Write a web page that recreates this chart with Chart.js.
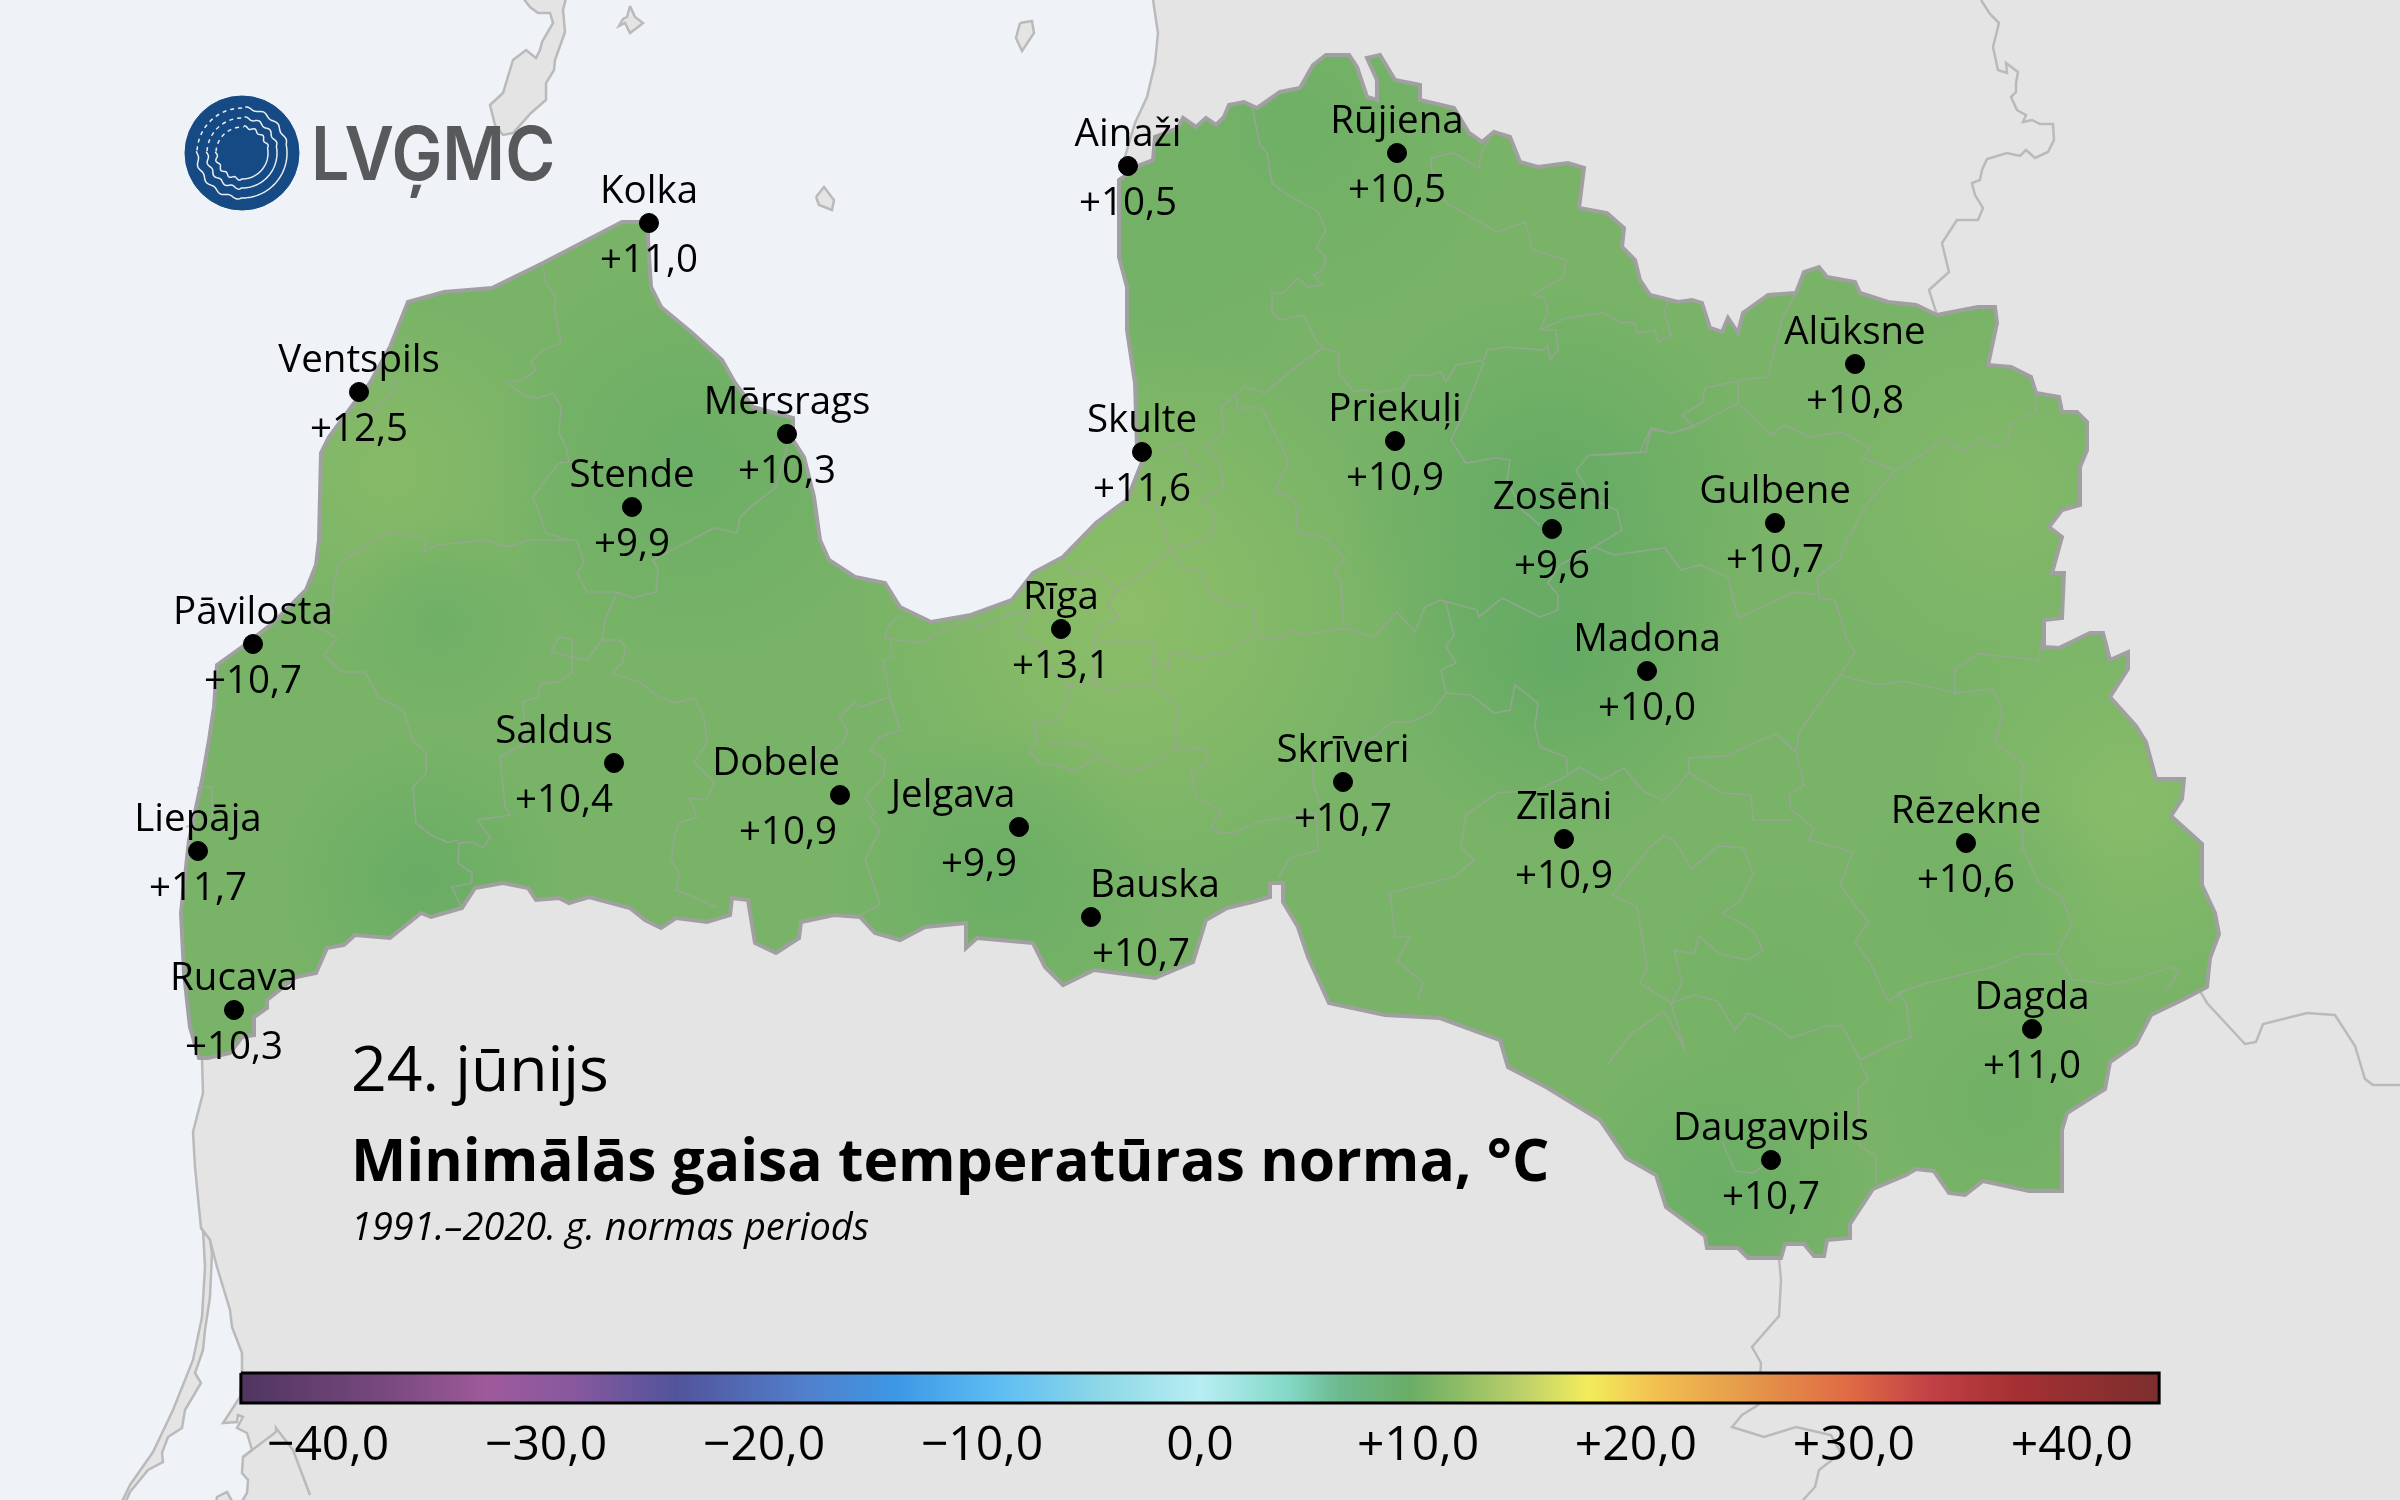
<!DOCTYPE html>
<html lang="lv">
<head>
<meta charset="utf-8">
<title>Minimālās gaisa temperatūras norma</title>
<script src="https://cdn.jsdelivr.net/npm/chart.js@4"></script>
<style>
  html, body { margin: 0; padding: 0; background: #E4E4E4; }
  canvas { display: block; }
</style>
</head>
<body>
<canvas id="map" width="2400" height="1500"></canvas>
<script>
// stations
const stationNames = ['Ainaži','Rūjiena','Kolka','Ventspils','Mērsrags','Stende','Skulte','Priekuļi','Alūksne','Gulbene','Zosēni','Madona','Rīga','Pāvilosta','Saldus','Dobele','Jelgava','Bauska','Skrīveri','Zīlāni','Liepāja','Rucava','Rēzekne','Dagda','Daugavpils'];
const stationValues = [10.5,10.5,11.0,12.5,10.3,9.9,11.6,10.9,10.8,10.7,9.6,10.0,13.1,10.7,10.4,10.9,9.9,10.7,10.7,10.9,11.7,10.3,10.6,11.0,10.7];
const stationX = [1128,1397,649,359,787,632,1142,1395,1855,1775,1552,1647,1061,253,614,840,1019,1091,1343,1564,198,234,1966,2032,1771];
const stationY = [166,153,223,392,434,507,452,441,364,523,529,671,629,644,763,795,827,917,782,839,851,1010,843,1029,1160];

// colour bar
const tickValues = [-40,-30,-20,-10,0,10,20,30,40];
const tickLabels = ['−40,0','−30,0','−20,0','−10,0','0,0','+10,0','+20,0','+30,0','+40,0'];
const barTemps = [-44,-37,-32.7,-28.6,-24,-18,-14,-9.3,-4.4,0,4.1,6.4,9.6,11.7,14.6,17.8,21,25,29.8,33.6,37.4,44];
const barColors = ['#4F3560','#7B4A80','#9E5A9B','#86589E','#51549B','#5180CC','#3D97E5','#5DBDF3','#8FD8E6','#B8EDF4','#83D8C6','#6DB98F','#6AAD67','#8ABB65','#B9CF6A','#F3EC5B','#F2BF50','#E59A4A','#E06A45','#C04045','#A53033','#7C2E2E'];

// temperature field over Latvia, warm and cool patches
const fieldX = [1130,390,2130,2000,1550,1560,690,420,440,1720,1000,1300,1170,1980,2000,1780];
const fieldY = [610,470,800,500,500,660,460,880,620,1190,880,130,250,900,1100,1000];
const fieldSize = [280,180,210,200,210,180,200,140,100,150,160,200,150,130,120,130];
const fieldColors = ['#8DBE68','#87BA68','#87BC69','#83B969','#64AA64','#64AA64','#6BAE65','#68AC65','#6FB066','#6AAE66','#6BAE65','#6FB066','#72B166','#73B166','#71B066','#73B166'];

// map outlines, in map units
const latviaOutline = [[648,222],[648,240],[651,287],[661,307],[691,332],[722,360],[735,383],[753,407],[793,418],[793,440],[804,457],[814,497],[820,540],[829,560],[855,577],[885,583],[900,607],[931,622],[971,615],[1012,600],[1033,573],[1063,557],[1096,523],[1117,507],[1127,500],[1142,462],[1137,447],[1135,383],[1127,330],[1127,287],[1119,257],[1119,180],[1140,165],[1153,160],[1155,137],[1178,128],[1183,118],[1196,127],[1206,118],[1216,125],[1224,117],[1229,105],[1244,102],[1257,108],[1280,92],[1300,88],[1313,65],[1326,55],[1349,55],[1357,67],[1367,97],[1377,100],[1377,80],[1367,58],[1380,55],[1395,80],[1420,85],[1420,100],[1454,108],[1469,133],[1482,142],[1494,132],[1510,137],[1520,162],[1538,167],[1568,163],[1584,168],[1579,208],[1607,213],[1624,228],[1622,247],[1635,260],[1640,280],[1650,295],[1678,302],[1692,300],[1702,303],[1710,328],[1722,332],[1728,318],[1738,333],[1743,313],[1768,295],[1796,293],[1804,272],[1819,267],[1827,277],[1855,282],[1860,293],[1888,302],[1916,305],[1937,315],[1947,313],[1978,307],[1995,307],[1997,323],[1988,365],[2011,367],[2031,377],[2036,393],[2059,397],[2062,412],[2077,412],[2087,422],[2087,450],[2080,467],[2080,505],[2062,510],[2049,527],[2062,537],[2052,573],[2064,573],[2062,618],[2044,620],[2044,647],[2059,648],[2090,633],[2103,633],[2110,660],[2128,652],[2128,669],[2110,697],[2136,726],[2146,742],[2156,779],[2184,779],[2182,799],[2171,816],[2202,844],[2202,885],[2215,913],[2219,934],[2210,958],[2207,987],[2184,999],[2151,1015],[2136,1044],[2110,1062],[2105,1089],[2067,1113],[2062,1130],[2062,1191],[2029,1191],[1983,1181],[1965,1195],[1949,1193],[1934,1171],[1916,1169],[1906,1175],[1873,1189],[1850,1224],[1850,1238],[1827,1240],[1824,1256],[1814,1256],[1804,1244],[1785,1244],[1781,1258],[1748,1258],[1738,1248],[1707,1248],[1705,1236],[1666,1207],[1656,1175],[1626,1158],[1600,1120],[1546,1087],[1508,1067],[1500,1040],[1440,1018],[1385,1015],[1329,1003],[1308,957],[1298,927],[1283,902],[1283,883],[1270,883],[1270,897],[1252,902],[1227,908],[1206,920],[1193,962],[1155,978],[1094,970],[1063,985],[1045,967],[1033,943],[977,938],[966,948],[966,923],[925,927],[900,940],[875,933],[860,917],[834,915],[801,922],[799,938],[776,953],[755,943],[748,900],[732,898],[730,915],[707,922],[676,918],[661,928],[645,920],[630,908],[589,897],[569,903],[559,898],[536,900],[528,888],[503,883],[475,888],[462,908],[431,917],[421,913],[390,938],[355,935],[344,945],[327,948],[316,973],[296,977],[267,1000],[267,1008],[254,1017],[254,1035],[242,1037],[230,1053],[208,1058],[199,1058],[190,1027],[184,973],[181,913],[189,840],[197,803],[202,780],[209,740],[214,707],[217,665],[242,647],[273,623],[306,590],[316,565],[319,540],[321,453],[329,437],[355,402],[370,383],[390,347],[398,327],[408,302],[444,292],[492,288],[543,263],[622,222],[648,222]];

const municipalBorders = [
  [[543,267],[546,283],[556,297],[554,307],[561,343],[543,350],[531,362],[536,370],[523,380],[508,383],[523,395],[538,398],[553,393],[561,407],[559,433],[566,447],[569,462],[559,463],[543,483],[533,498],[538,510],[546,533],[569,540],[577,540],[584,563],[577,573],[587,592],[617,592],[633,598],[656,592],[658,570],[653,560],[691,540],[714,528],[737,533],[740,517],[753,505],[776,487],[788,443]],
  [[617,592],[605,620],[602,640],[587,660],[572,657],[551,652],[559,637],[572,640],[572,673],[559,682],[541,683],[538,697],[523,702],[526,743],[500,757],[505,807],[510,815],[477,820],[490,837],[483,848],[472,842],[459,843],[458,863],[472,873],[472,883],[452,887],[462,908]],
  [[602,640],[620,640],[625,647],[623,662],[612,673],[640,682],[656,695],[674,703],[694,698],[704,717],[707,743],[694,762],[714,782],[707,800],[689,798],[697,817],[679,823],[674,840],[671,860],[679,873],[676,890],[697,898],[717,908]],
  [[577,540],[528,540],[508,547],[487,540],[436,545],[424,552],[426,540],[401,532],[385,533],[360,550],[339,563],[334,583],[332,613],[314,625],[337,638],[324,655],[342,672],[365,672],[378,697],[403,710],[413,740],[426,753],[426,773],[413,787],[416,823],[431,835],[447,842],[459,840]],
  [[197,788],[212,787],[212,817],[186,827]],
  [[395,377],[395,390],[380,403],[375,413],[360,410]],
  [[900,615],[888,627],[885,638],[920,643],[969,618],[977,628],[1015,612],[1030,613],[1015,632],[1043,647],[1043,660],[1068,687],[1068,700],[1058,720],[1033,723],[1038,738],[1030,753],[1040,763],[1063,767],[1076,770],[1099,755],[1089,745],[1048,742]],
  [[890,640],[893,657],[883,660],[890,697],[900,730],[880,737],[870,750],[885,760],[883,777],[865,797],[875,813],[870,817],[880,830],[865,860],[873,883],[880,905],[860,915]],
  [[890,697],[860,707],[855,702],[839,717],[847,730],[844,742],[820,762],[810,745]],
  [[1068,687],[1094,682],[1109,693],[1124,685],[1153,685],[1155,663],[1150,658],[1168,667],[1170,653],[1186,652],[1191,658],[1227,653],[1255,633],[1255,608],[1232,605],[1211,595],[1201,572],[1183,568],[1170,550],[1211,538],[1216,517],[1201,500]],
  [[1170,550],[1158,510],[1155,500]],
  [[1170,550],[1150,568],[1117,590],[1096,570],[1073,575],[1063,563]],
  [[1094,682],[1094,643],[1096,628],[1119,618],[1107,603],[1117,590]],
  [[1094,643],[1122,643],[1155,643],[1155,663]],
  [[1099,757],[1127,773],[1155,763],[1176,747],[1178,707],[1153,683]],
  [[1176,748],[1206,748],[1206,765],[1191,770],[1196,797],[1221,810],[1211,827],[1219,833],[1237,832],[1257,822],[1316,812],[1318,850],[1290,858],[1278,878]],
  [[1313,763],[1313,783],[1321,807]],
  [[1313,763],[1374,737],[1392,722],[1410,722],[1431,713],[1446,693],[1441,670],[1456,663],[1446,647],[1454,635],[1446,603],[1441,600],[1425,607],[1415,632],[1397,612],[1374,637],[1344,628],[1303,635],[1293,630],[1275,640],[1255,635]],
  [[1344,628],[1341,583],[1334,570],[1346,560],[1326,538],[1298,532],[1295,500],[1275,490],[1288,462],[1275,433],[1262,408],[1237,408],[1237,397]],
  [[1441,600],[1477,610],[1479,617],[1502,598],[1520,607],[1540,617],[1558,610],[1558,595],[1548,583],[1560,565],[1594,547],[1614,555],[1665,548],[1681,570],[1700,565],[1728,577],[1738,618]],
  [[1594,547],[1622,530],[1617,510],[1594,500],[1576,470],[1589,455],[1640,452],[1650,430],[1673,433],[1700,423],[1738,403]],
  [[1446,693],[1471,695],[1494,713],[1510,710],[1515,685],[1538,703],[1535,727],[1540,747],[1566,757],[1568,775],[1538,790],[1497,793],[1466,815],[1461,847],[1474,860],[1454,877],[1390,893],[1395,937],[1410,937],[1397,960],[1423,983],[1418,1000]],
  [[1568,775],[1579,767],[1602,780],[1624,768],[1643,791],[1664,801],[1689,773]],
  [[1651,846],[1664,836],[1674,840],[1692,869],[1717,846],[1743,848],[1753,873],[1740,901],[1722,913],[1753,930],[1763,950],[1748,960],[1720,954],[1699,936],[1694,954],[1674,950],[1682,983],[1671,1003],[1694,995],[1717,1001],[1735,1030],[1748,1013],[1776,1026],[1791,1038],[1827,1026],[1842,1026],[1860,1060],[1896,1042],[1911,1038],[1906,1003],[1898,993],[1927,983],[1993,967],[2023,954],[2057,954],[2072,979],[2110,985],[2141,977],[2171,967],[2179,971],[2166,991]],
  [[1651,846],[1612,895],[1637,907],[1647,967],[1640,983],[1671,1003]],
  [[2057,954],[2062,942],[2072,926],[2062,897],[2039,883],[2023,848],[2021,787],[2023,764],[1995,742],[2003,713],[1993,689],[1955,693],[1955,669],[1978,654],[2039,660],[2041,640]],
  [[1955,693],[1904,681],[1878,685],[1855,679],[1840,675],[1855,652],[1847,640],[1835,600],[1819,598],[1817,577],[1840,560],[1845,543],[1868,503],[1895,470]],
  [[1840,675],[1799,732],[1796,752],[1804,785],[1789,795],[1791,809],[1814,828],[1809,840],[1853,852],[1840,885],[1868,922],[1855,942],[1870,962],[1888,1001],[1901,993]],
  [[1796,752],[1776,734],[1725,756],[1689,758],[1689,773],[1722,793],[1751,795],[1753,820],[1791,820]],
  [[1671,1003],[1684,1048],[1664,1011],[1631,1034],[1608,1064]],
  [[1860,1062],[1868,1079],[1858,1089],[1860,1146],[1876,1156],[1876,1183]],
  [[1722,1142],[1735,1171],[1753,1173],[1771,1160]],
  [[1252,107],[1260,145],[1267,153],[1272,183],[1285,193],[1318,212],[1326,230],[1316,248],[1326,257],[1323,270],[1313,275],[1323,285],[1308,287],[1298,278],[1283,293],[1272,293],[1272,313],[1280,320],[1303,315],[1316,340],[1323,348],[1298,365],[1265,393],[1244,387],[1221,408],[1224,433],[1206,445],[1221,467],[1224,487],[1201,500]],
  [[1155,453],[1183,443],[1188,462],[1206,470]],
  [[1323,348],[1339,353],[1339,373],[1354,392],[1364,390],[1374,393],[1403,388],[1410,375],[1431,375],[1441,372],[1446,382],[1456,365],[1484,360],[1487,350],[1505,347],[1543,350],[1548,345],[1550,360],[1558,350],[1556,330],[1540,330],[1548,312],[1545,298],[1533,295],[1563,277],[1566,260],[1533,250],[1525,222],[1497,232],[1477,220],[1446,203],[1431,167],[1431,158],[1454,153],[1479,168],[1482,150],[1494,132]],
  [[1540,330],[1566,318],[1604,313],[1619,322],[1635,323],[1637,333],[1655,330],[1658,342],[1671,335],[1664,313],[1669,300]],
  [[1484,362],[1464,413],[1451,440],[1466,463],[1494,458],[1510,460],[1507,480],[1522,510],[1540,525]],
  [[1776,343],[1768,377],[1743,380],[1705,388],[1702,403],[1682,415],[1694,427],[1671,433],[1651,428],[1646,452],[1610,455],[1589,455]],
  [[1738,383],[1738,403],[1761,425],[1771,435],[1784,425],[1809,437],[1842,432],[1870,448],[1863,458],[1895,470],[1919,457],[1944,438],[1962,452],[1983,438],[1990,448],[2008,443],[2011,423],[2036,412],[2036,393]],
  [[1817,595],[1794,592],[1771,603],[1738,618]],
  [[1776,343],[1782,318],[1796,293]]
];

// sea and neighbouring land; the stretch behind Latvia is covered by its fill
const seaOutline = [[-10,-10],[1153,-10],[1153,0],[1158,33],[1155,63],[1147,97],[1135,123],[1124,160],[1200,300],[1150,550],[1000,650],[800,650],[400,850],[220,1040],[202,1058],[203,1093],[193,1132],[195,1167],[201,1228],[210,1240],[217,1267],[230,1310],[232,1327],[242,1353],[242,1377],[240,1397],[223,1423],[237,1422],[238,1415],[243,1417],[237,1428],[247,1433],[252,1450],[243,1457],[242,1473],[248,1480],[247,1493],[237,1510],[227,1492],[217,1497],[215,1510],[-10,1510],[-10,-10]];
const landPieces = [
  [[201,1228],[203,1230],[205,1267],[202,1317],[193,1360],[173,1410],[153,1452],[130,1485],[118,1510],[122,1510],[130,1492],[148,1470],[163,1462],[162,1453],[168,1437],[182,1428],[185,1410],[201,1383],[195,1373],[203,1350],[205,1330],[210,1297],[212,1253],[210,1240],[201,1228]],
  [[568,-10],[563,10],[565,32],[555,60],[554,70],[546,83],[546,100],[531,113],[513,133],[503,135],[495,125],[490,105],[503,93],[513,60],[526,50],[536,58],[540,50],[542,42],[553,23],[550,13],[538,13],[530,7],[517,-10],[568,-10]],
  [[630,6],[635,17],[643,23],[638,27],[630,33],[625,23],[619,26],[623,19],[627,17],[630,6]],
  [[816,197],[824,187],[834,200],[832,210],[819,205],[816,197]],
  [[1020,23],[1032,21],[1034,33],[1022,51],[1016,38],[1020,23]]
];
const foreignBorders = [
  [[1981,0],[1990,14],[1999,23],[1993,47],[1998,70],[2007,73],[2006,63],[2018,72],[2016,83],[2016,92],[2011,97],[2017,110],[2026,115],[2023,122],[2032,120],[2040,124],[2053,124],[2054,140],[2048,152],[2035,158],[2026,150],[2020,156],[2007,153],[1987,159],[1982,170],[1980,180],[1972,183],[1975,195],[1983,208],[1978,220],[1957,220],[1942,243],[1949,272],[1929,290],[1937,315]],
  [[2200,991],[2207,1003],[2245,1044],[2256,1042],[2263,1024],[2307,1013],[2335,1015],[2355,1046],[2365,1079],[2373,1085],[2400,1085]],
  [[1779,1258],[1781,1280],[1779,1316],[1752,1347],[1761,1363],[1758,1405],[1742,1415],[1732,1427],[1764,1437],[1796,1427],[1831,1435],[1841,1453],[1819,1470],[1815,1487],[1803,1500]],
  [[243,1457],[276,1432],[276,1428],[293,1450],[310,1495]]
];

const LOGO_AT = [242, 153];

function toPoints(line) {
  return line.map(function (p) { return { x: p[0], y: p[1] }; });
}

// polylines separated by an empty point, so one dataset can hold them all
function joinLines(lines) {
  let points = [];
  lines.forEach(function (line) {
    points = points.concat(toPoints(line));
    points.push({ x: null, y: null });
  });
  return points;
}

let fieldPattern = null;
function latviaFill(context) {
  const chart = context.chart;
  if (fieldPattern) return fieldPattern;
  if (!isFinite(chart.scales.x.getPixelForValue(0))) return '#78B367';
  const off = document.createElement('canvas');
  off.width = chart.width;
  off.height = chart.height;
  const g = off.getContext('2d');
  g.fillStyle = '#78B367';
  g.fillRect(0, 0, off.width, off.height);
  fieldX.forEach(function (fx, i) {
    const px = chart.scales.x.getPixelForValue(fx);
    const py = chart.scales.y.getPixelForValue(fieldY[i]);
    const blob = g.createRadialGradient(px, py, 0, px, py, fieldSize[i]);
    blob.addColorStop(0, fieldColors[i]);
    blob.addColorStop(1, fieldColors[i] + '00');
    g.fillStyle = blob;
    g.fillRect(px - fieldSize[i], py - fieldSize[i], fieldSize[i] * 2, fieldSize[i] * 2);
  });
  fieldPattern = chart.ctx.createPattern(off, 'no-repeat');
  return fieldPattern;
}

function barFill(context) {
  const chart = context.chart;
  const xBar = chart.scales.xBar;
  const left = xBar.getPixelForValue(-44);
  const right = xBar.getPixelForValue(44);
  if (!isFinite(left) || !isFinite(right)) return '#000';
  const grad = chart.ctx.createLinearGradient(left, 0, right, 0);
  barTemps.forEach(function (t, i) {
    grad.addColorStop((t + 44) / 88, barColors[i]);
  });
  return grad;
}

const FONT = '"Open Sans", sans-serif';

const labelsPlugin = {
  id: 'mapLabels',
  afterDatasetsDraw(chart) {
    const { ctx, scales } = chart;
    const sx = scales.x, sy = scales.y;
    ctx.save();
    ctx.fillStyle = '#000';
    ctx.textAlign = 'center';
    ctx.textBaseline = 'middle';

    // names and values around each station dot
    const nameShift = { 'Saldus': -60, 'Dobele': -64, 'Jelgava': -66, 'Bauska': 64 };
    const valueShift = { 'Saldus': -50, 'Dobele': -52, 'Jelgava': -40, 'Bauska': 50 };
    ctx.font = '38.5px ' + FONT;
    stationNames.forEach(function (name, i) {
      const px = sx.getPixelForValue(stationX[i]);
      const py = sy.getPixelForValue(stationY[i]);
      ctx.fillText(name, px + (nameShift[name] || 0), py - 31);
      const txt = '+' + stationValues[i].toFixed(1).replace('.', ',');
      ctx.fillText(txt, px + (valueShift[name] || 0), py + 38);
    });

    // colour bar ticks
    ctx.font = '48px ' + FONT;
    tickValues.forEach(function (v, i) {
      ctx.fillText(tickLabels[i], scales.xBar.getPixelForValue(v), sy.getPixelForValue(1446));
    });

    // headings
    ctx.textAlign = 'left';
    ctx.textBaseline = 'alphabetic';
    ctx.font = '62.5px ' + FONT;
    ctx.fillText('24. jūnijs', sx.getPixelForValue(351), sy.getPixelForValue(1091));
    ctx.font = 'bold 58.7px ' + FONT;
    ctx.fillText('Minimālās gaisa temperatūras norma, °C', sx.getPixelForValue(351), sy.getPixelForValue(1181));
    ctx.font = 'italic 38px ' + FONT;
    ctx.fillText('1991.–2020. g. normas periods', sx.getPixelForValue(351), sy.getPixelForValue(1240));

    // logo word, squeezed a little to the width of the original lettering
    ctx.save();
    ctx.fillStyle = '#58595B';
    ctx.font = '600 74px Inter, sans-serif';
    ctx.translate(sx.getPixelForValue(311), sy.getPixelForValue(180));
    ctx.scale(0.92, 1);
    ctx.fillText('LVĢMC', 0, 0);
    ctx.restore();

    // logo rings, dashed in the upper left part, rippled in the lower left
    const cx = sx.getPixelForValue(LOGO_AT[0]);
    const cy = sy.getPixelForValue(LOGO_AT[1]);
    ctx.strokeStyle = '#E9EEF3';
    ctx.lineWidth = 1.5;
    [45, 35, 26].forEach(function (r) {
      ctx.setLineDash([]);
      ctx.beginPath();
      for (let a = -1.5; a <= 3.2; a += 0.03) {
        const wave = (a < -0.2 || a > 1.6) ? Math.sin(a * 16) * 1.3 : 0;
        const rr = r + wave;
        ctx.lineTo(cx + rr * Math.cos(a), cy + rr * Math.sin(a));
      }
      ctx.stroke();
      ctx.setLineDash([4, 4]);
      ctx.beginPath();
      ctx.arc(cx, cy, r, 3.2, 4.78);
      ctx.stroke();
    });
    ctx.restore();
  }
};

const mapChart = new Chart(document.getElementById('map'), {
  type: 'scatter',
  data: {
    datasets: [
      { label: 'Stacijas', data: stationX.map(function (x, i) { return { x: x, y: stationY[i] }; }), backgroundColor: '#000', borderColor: '#000', pointRadius: 9.5, order: 1 },
      { label: 'LVĢMC', data: [{ x: LOGO_AT[0], y: LOGO_AT[1] }], backgroundColor: '#154A85', borderColor: '#154A85', pointRadius: 57, order: 2 },
      { label: 'Skala', data: toPoints([[-44,1373],[44,1373],[44,1403],[-44,1403],[-44,1373]]), xAxisID: 'xBar', showLine: true, fill: 'shape', backgroundColor: barFill, borderColor: '#000', borderWidth: 3, pointRadius: 0, order: 3 },
      { label: 'Novadi', data: joinLines(municipalBorders), showLine: true, borderColor: 'rgba(158,164,156,0.7)', borderWidth: 1.7, pointRadius: 0, order: 4 },
      { label: 'Latvija', data: toPoints(latviaOutline), showLine: true, fill: 'shape', backgroundColor: latviaFill, borderColor: '#A0A0A0', borderWidth: 4, pointRadius: 0, order: 5 },
      { label: 'Robežas', data: joinLines(foreignBorders), showLine: true, borderColor: '#BABABA', borderWidth: 2.5, pointRadius: 0, order: 6 },
      { label: 'Sauszeme', data: joinLines(landPieces), showLine: true, fill: 'shape', backgroundColor: '#E4E4E4', borderColor: '#BABABA', borderWidth: 2.5, pointRadius: 0, order: 7 },
      { label: 'Jūra', data: toPoints(seaOutline), showLine: true, fill: 'shape', backgroundColor: '#EFF3F7', borderColor: '#BABABA', borderWidth: 2.5, pointRadius: 0, order: 8 }
    ]
  },
  options: {
    responsive: false,
    animation: false,
    devicePixelRatio: 1,
    layout: { padding: 0, autoPadding: false },
    plugins: { legend: { display: false }, tooltip: { enabled: false }, title: { display: false } },
    scales: {
      x: { type: 'linear', min: 0, max: 2400, display: false },
      xBar: { type: 'linear', axis: 'x', position: 'top', min: -55.05, max: 55.05, display: false },
      y: { type: 'linear', min: 0, max: 1500, reverse: true, display: false }
    }
  },
  plugins: [labelsPlugin]
});
mapChart.update();
</script>
</body>
</html>
